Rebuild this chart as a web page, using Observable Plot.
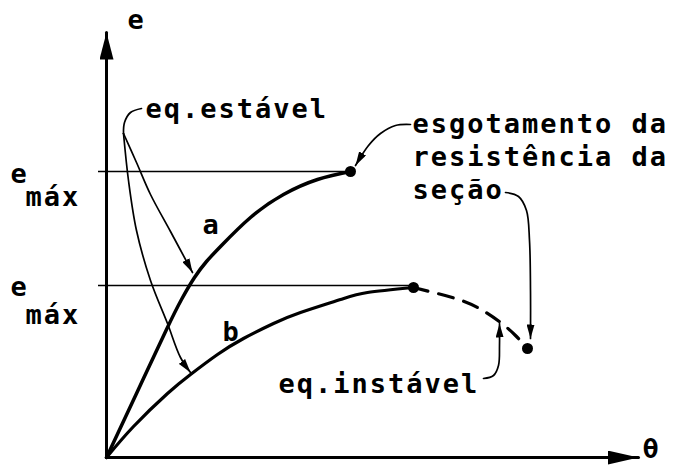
<!DOCTYPE html>
<html>
<head>
<meta charset="utf-8">
<script src="https://cdn.jsdelivr.net/npm/d3@7"></script>
<script src="https://cdn.jsdelivr.net/npm/@observablehq/plot@0.6"></script>
<style>
  html, body { margin: 0; padding: 0; background: #fff; }
  #chart svg text { letter-spacing: 2px; }
</style>
</head>
<body>
<div id="chart"></div>
<script>
// Coordinates: theta (horizontal) and e (vertical), in the diagram's own units.
const curveA = [[0,0],[30,64],[60,128],[75,158],[88,180],[100,196],[115,212],[144,240],[177,263],[211,278],[244,286]];
const curveB = [[0,0],[27,31],[61,64],[84,83],[111,103],[137,119],[167,134],[194,145],[234,158],[261,165],[307,170]];
const curveUnstable = [[307,170],[327,165],[349,159],[371,150],[394,135],[409,122],[421,109]];
const endPoints = [[244,286],[307,170],[421,109]];
const eMaxLevels = [286, 172];
const eMaxStart = -8;
const eMaxEnd = [244, 307];
const axisY = [[0,0],[0,425]];
const axisX = [[0,0],[532,0]];

// leader lines
const hookStable = [[35,349],[24,345],[18,335],[17,324]];
const leaderToA = [[17,324],[30,295],[44,263],[64,226],[86,185]];
const leaderToB = [[17,324],[22,277],[30,227],[44,177],[61,134],[74,100],[84,85]];
const leaderEsgot = [[304,333],[289,332],[274,324],[262,312],[249,292]];
const leaderSecao = [[399,265],[412,261],[420,247],[423,217],[424,167],[424,119]];
const leaderInst = [[377,79],[387,82],[392,92],[393,112],[393,134]];

// texts
const labelTexts = ["eq.estável","esgotamento da","resistência da","seção","eq.instável"];
const labelPos = [[39,340],[306,325],[306,292],[306,259],[172,65]];
const curveNames = ["a","b"];
const curveNamePos = [[96,224],[116,117]];
const axisNames = ["e","θ"];
const axisNamePos = [[21,429],[536,0]];
const eMaxMain = "e";
const eMaxSub = "máx";
const eMaxMainPos = [[-96,275],[-96,162]];
const eMaxSubPos = [[-81,252],[-81,134]];

function head(len, wid) {
  return (color) => {
    const m = d3.create("svg:marker")
      .attr("viewBox", `0 ${-wid/2} ${len} ${wid}`)
      .attr("markerUnits", "userSpaceOnUse")
      .attr("markerWidth", len)
      .attr("markerHeight", wid)
      .attr("refX", len)
      .attr("refY", 0)
      .attr("orient", "auto");
    m.append("path").attr("d", `M0,${-wid/2}L${len},0L0,${wid/2}Z`).attr("fill", color).attr("stroke", "none");
    return m.node();
  };
}

const pts = (arr) => arr.map(([t, e]) => ({t, e}));
const font = "DejaVu Sans Mono, Liberation Mono, monospace";

const txt = (labels, pos, opts = {}) => Plot.text(labels.map((s, i) => ({s, t: pos[i][0], e: pos[i][1]})), {
  x: "t", y: "e", text: "s", textAnchor: "start", lineAnchor: "bottom",
  fontSize: 27, fontWeight: "bold", fill: "black", ...opts
});

const leader = (arr, marker) => Plot.line(pts(arr), {x: "t", y: "e", curve: "catmull-rom", stroke: "black", strokeWidth: 1.7, markerEnd: marker});

const chart = Plot.plot({
  width: 679,
  height: 469,
  margin: 0,
  style: {fontFamily: font, background: "white", color: "black"},
  x: {domain: [-106, 573], axis: null},
  y: {domain: [-12, 457], axis: null},
  marks: [
    // e_max reference lines
    Plot.ruleY(eMaxLevels.map((e, i) => ({e, x1: eMaxStart, x2: eMaxEnd[i]})), {y: "e", x1: "x1", x2: "x2", stroke: "black", strokeWidth: 1.4}),
    // axes
    Plot.line(pts(axisY), {x: "t", y: "e", stroke: "black", strokeWidth: 3, markerEnd: head(27, 14)}),
    Plot.line(pts(axisX), {x: "t", y: "e", stroke: "black", strokeWidth: 3, markerEnd: head(31, 14)}),
    // curves
    Plot.line(pts(curveA), {x: "t", y: "e", curve: "natural", stroke: "black", strokeWidth: 3.5}),
    Plot.line(pts(curveB), {x: "t", y: "e", curve: "natural", stroke: "black", strokeWidth: 3.2}),
    Plot.line(pts(curveUnstable), {x: "t", y: "e", curve: "natural", stroke: "black", strokeWidth: 3.2, strokeDasharray: "15,11"}),
    Plot.dot(pts(endPoints), {x: "t", y: "e", r: 5.5, fill: "black"}),
    // leaders
    leader(hookStable, null),
    leader(leaderToA, head(14, 8)),
    leader(leaderToB, head(14, 8)),
    leader(leaderEsgot, head(14, 8)),
    leader(leaderSecao, head(14, 8)),
    leader(leaderInst, head(14, 8)),
    // texts
    txt(labelTexts, labelPos),
    txt(curveNames, curveNamePos),
    txt(axisNames, axisNamePos),
    txt([eMaxMain, eMaxMain], eMaxMainPos),
    txt([eMaxSub, eMaxSub], eMaxSubPos)
  ]
});
document.getElementById("chart").appendChild(chart);
</script>
</body>
</html>
